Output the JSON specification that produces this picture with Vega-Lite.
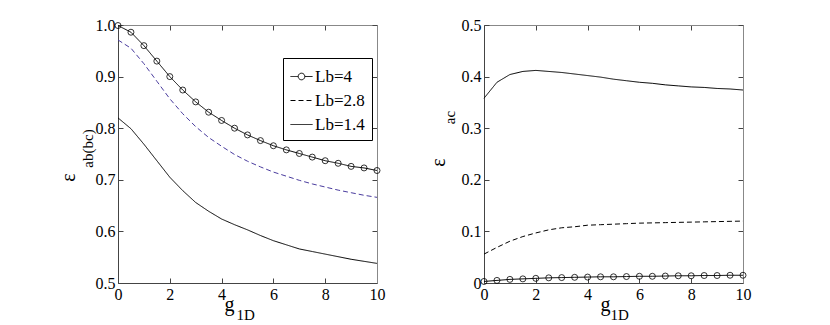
{
  "$schema": "https://vega.github.io/schema/vega-lite/v6.json",
  "background": "white",
  "padding": {"left": 58, "top": 17, "right": 5, "bottom": 0},
  "datasets": {
    "left": [
      {"g": 0, "v": 0.999, "series": "Lb=4"}, {"g": 0.5, "v": 0.986, "series": "Lb=4"}, {"g": 1, "v": 0.96, "series": "Lb=4"}, {"g": 1.5, "v": 0.93, "series": "Lb=4"}, {"g": 2, "v": 0.9, "series": "Lb=4"}, {"g": 2.5, "v": 0.874, "series": "Lb=4"}, {"g": 3, "v": 0.851, "series": "Lb=4"}, {"g": 3.5, "v": 0.831, "series": "Lb=4"}, {"g": 4, "v": 0.815, "series": "Lb=4"}, {"g": 4.5, "v": 0.8, "series": "Lb=4"}, {"g": 5, "v": 0.787, "series": "Lb=4"}, {"g": 5.5, "v": 0.776, "series": "Lb=4"}, {"g": 6, "v": 0.766, "series": "Lb=4"}, {"g": 6.5, "v": 0.758, "series": "Lb=4"}, {"g": 7, "v": 0.751, "series": "Lb=4"}, {"g": 7.5, "v": 0.744, "series": "Lb=4"}, {"g": 8, "v": 0.737, "series": "Lb=4"}, {"g": 8.5, "v": 0.732, "series": "Lb=4"}, {"g": 9, "v": 0.726, "series": "Lb=4"}, {"g": 9.5, "v": 0.723, "series": "Lb=4"}, {"g": 10, "v": 0.718, "series": "Lb=4"},
      {"g": 0, "v": 0.971, "series": "Lb=2.8"}, {"g": 0.5, "v": 0.955, "series": "Lb=2.8"}, {"g": 1, "v": 0.925, "series": "Lb=2.8"}, {"g": 1.5, "v": 0.891, "series": "Lb=2.8"}, {"g": 2, "v": 0.857, "series": "Lb=2.8"}, {"g": 2.5, "v": 0.828, "series": "Lb=2.8"}, {"g": 3, "v": 0.803, "series": "Lb=2.8"}, {"g": 3.5, "v": 0.782, "series": "Lb=2.8"}, {"g": 4, "v": 0.765, "series": "Lb=2.8"}, {"g": 4.5, "v": 0.749, "series": "Lb=2.8"}, {"g": 5, "v": 0.736, "series": "Lb=2.8"}, {"g": 5.5, "v": 0.725, "series": "Lb=2.8"}, {"g": 6, "v": 0.715, "series": "Lb=2.8"}, {"g": 6.5, "v": 0.707, "series": "Lb=2.8"}, {"g": 7, "v": 0.699, "series": "Lb=2.8"}, {"g": 7.5, "v": 0.692, "series": "Lb=2.8"}, {"g": 8, "v": 0.686, "series": "Lb=2.8"}, {"g": 8.5, "v": 0.68, "series": "Lb=2.8"}, {"g": 9, "v": 0.675, "series": "Lb=2.8"}, {"g": 9.5, "v": 0.67, "series": "Lb=2.8"}, {"g": 10, "v": 0.666, "series": "Lb=2.8"},
      {"g": 0, "v": 0.82, "series": "Lb=1.4"}, {"g": 0.5, "v": 0.799, "series": "Lb=1.4"}, {"g": 1, "v": 0.769, "series": "Lb=1.4"}, {"g": 1.5, "v": 0.737, "series": "Lb=1.4"}, {"g": 2, "v": 0.705, "series": "Lb=1.4"}, {"g": 2.5, "v": 0.679, "series": "Lb=1.4"}, {"g": 3, "v": 0.656, "series": "Lb=1.4"}, {"g": 3.5, "v": 0.639, "series": "Lb=1.4"}, {"g": 4, "v": 0.624, "series": "Lb=1.4"}, {"g": 4.5, "v": 0.613, "series": "Lb=1.4"}, {"g": 5, "v": 0.603, "series": "Lb=1.4"}, {"g": 5.5, "v": 0.592, "series": "Lb=1.4"}, {"g": 6, "v": 0.582, "series": "Lb=1.4"}, {"g": 6.5, "v": 0.574, "series": "Lb=1.4"}, {"g": 7, "v": 0.566, "series": "Lb=1.4"}, {"g": 7.5, "v": 0.561, "series": "Lb=1.4"}, {"g": 8, "v": 0.556, "series": "Lb=1.4"}, {"g": 8.5, "v": 0.551, "series": "Lb=1.4"}, {"g": 9, "v": 0.546, "series": "Lb=1.4"}, {"g": 9.5, "v": 0.542, "series": "Lb=1.4"}, {"g": 10, "v": 0.538, "series": "Lb=1.4"}
    ],
    "right": [
      {"g": 0, "v": 0.003, "series": "Lb=4"}, {"g": 0.5, "v": 0.005, "series": "Lb=4"}, {"g": 1, "v": 0.007, "series": "Lb=4"}, {"g": 1.5, "v": 0.008, "series": "Lb=4"}, {"g": 2, "v": 0.009, "series": "Lb=4"}, {"g": 2.5, "v": 0.01, "series": "Lb=4"}, {"g": 3, "v": 0.0105, "series": "Lb=4"}, {"g": 3.5, "v": 0.011, "series": "Lb=4"}, {"g": 4, "v": 0.0115, "series": "Lb=4"}, {"g": 4.5, "v": 0.012, "series": "Lb=4"}, {"g": 5, "v": 0.012, "series": "Lb=4"}, {"g": 5.5, "v": 0.0125, "series": "Lb=4"}, {"g": 6, "v": 0.013, "series": "Lb=4"}, {"g": 6.5, "v": 0.013, "series": "Lb=4"}, {"g": 7, "v": 0.0135, "series": "Lb=4"}, {"g": 7.5, "v": 0.014, "series": "Lb=4"}, {"g": 8, "v": 0.014, "series": "Lb=4"}, {"g": 8.5, "v": 0.0145, "series": "Lb=4"}, {"g": 9, "v": 0.0145, "series": "Lb=4"}, {"g": 9.5, "v": 0.015, "series": "Lb=4"}, {"g": 10, "v": 0.015, "series": "Lb=4"},
      {"g": 0, "v": 0.056, "series": "Lb=2.8"}, {"g": 0.5, "v": 0.069, "series": "Lb=2.8"}, {"g": 1, "v": 0.081, "series": "Lb=2.8"}, {"g": 1.5, "v": 0.09, "series": "Lb=2.8"}, {"g": 2, "v": 0.097, "series": "Lb=2.8"}, {"g": 2.5, "v": 0.103, "series": "Lb=2.8"}, {"g": 3, "v": 0.107, "series": "Lb=2.8"}, {"g": 3.5, "v": 0.109, "series": "Lb=2.8"}, {"g": 4, "v": 0.112, "series": "Lb=2.8"}, {"g": 4.5, "v": 0.113, "series": "Lb=2.8"}, {"g": 5, "v": 0.114, "series": "Lb=2.8"}, {"g": 5.5, "v": 0.115, "series": "Lb=2.8"}, {"g": 6, "v": 0.116, "series": "Lb=2.8"}, {"g": 6.5, "v": 0.1165, "series": "Lb=2.8"}, {"g": 7, "v": 0.117, "series": "Lb=2.8"}, {"g": 7.5, "v": 0.1175, "series": "Lb=2.8"}, {"g": 8, "v": 0.118, "series": "Lb=2.8"}, {"g": 8.5, "v": 0.1185, "series": "Lb=2.8"}, {"g": 9, "v": 0.119, "series": "Lb=2.8"}, {"g": 9.5, "v": 0.1195, "series": "Lb=2.8"}, {"g": 10, "v": 0.12, "series": "Lb=2.8"},
      {"g": 0, "v": 0.358, "series": "Lb=1.4"}, {"g": 0.5, "v": 0.389, "series": "Lb=1.4"}, {"g": 1, "v": 0.404, "series": "Lb=1.4"}, {"g": 1.5, "v": 0.41, "series": "Lb=1.4"}, {"g": 2, "v": 0.412, "series": "Lb=1.4"}, {"g": 2.5, "v": 0.41, "series": "Lb=1.4"}, {"g": 3, "v": 0.408, "series": "Lb=1.4"}, {"g": 3.5, "v": 0.405, "series": "Lb=1.4"}, {"g": 4, "v": 0.402, "series": "Lb=1.4"}, {"g": 4.5, "v": 0.399, "series": "Lb=1.4"}, {"g": 5, "v": 0.395, "series": "Lb=1.4"}, {"g": 5.5, "v": 0.392, "series": "Lb=1.4"}, {"g": 6, "v": 0.389, "series": "Lb=1.4"}, {"g": 6.5, "v": 0.387, "series": "Lb=1.4"}, {"g": 7, "v": 0.384, "series": "Lb=1.4"}, {"g": 7.5, "v": 0.382, "series": "Lb=1.4"}, {"g": 8, "v": 0.38, "series": "Lb=1.4"}, {"g": 8.5, "v": 0.379, "series": "Lb=1.4"}, {"g": 9, "v": 0.377, "series": "Lb=1.4"}, {"g": 9.5, "v": 0.376, "series": "Lb=1.4"}, {"g": 10, "v": 0.374, "series": "Lb=1.4"}
    ]
  },
  "hconcat": [
    {
      "width": 259,
      "height": 258,
      "layer": [
        {
          "data": {"name": "left"},
          "mark": {"type": "line", "strokeWidth": 1},
          "encoding": {
            "x": {"field": "g", "type": "quantitative", "scale": {"domain": [0, 10], "nice": false, "zero": false},
              "axis": {"orient": "bottom", "values": [0, 2, 4, 6, 8, 10], "format": "d", "labelFont": "Liberation Serif", "titleFont": "Liberation Serif", "title": "g", "titleAlign": "left", "titleBaseline": "alphabetic", "titleX": 106, "titleY": 27, "titleAngle": 0}},
            "y": {"field": "v", "type": "quantitative", "scale": {"domain": [0.5, 1], "nice": false, "zero": false},
              "axis": {"orient": "left", "values": [0.5, 0.6, 0.7, 0.8, 0.9, 1.0], "format": ".1f", "labelFont": "Liberation Serif", "titleFont": "Liberation Serif", "title": "ε", "titleAlign": "center", "titleBaseline": "alphabetic", "titleAngle": -90, "titleX": -44, "titleY": 152}},
            "strokeDash": {"field": "series", "type": "nominal",
              "scale": {"domain": ["Lb=4", "Lb=2.8", "Lb=1.4"], "range": [[1, 0], [5, 3], [1, 0]]},
              "legend": {"title": null, "orient": "none", "legendX": 165, "legendY": 33, "strokeColor": "black", "fillColor": "white", "padding": 7, "symbolSize": 484, "rowPadding": 4, "labelOffset": 2, "labelFont": "Liberation Serif", "labelFontSize": 17,
                "encode": {"symbols": {"update": {"shape": {"signal": "datum.value === 'Lb=4' ? 'M-1,0L-0.3,0M0.3,0L1,0M0.3,0A0.3,0.3,0,1,1,-0.3,0A0.3,0.3,0,1,1,0.3,0' : 'stroke'"}, "fill": {"value": "transparent"}}}}}},
            "color": {"condition": {"test": "datum.series === 'Lb=2.8'", "value": "#4a3c9e"}, "value": "black"}
          }
        },
        {
          "data": {"name": "left"},
          "transform": [{"filter": "datum.series === 'Lb=4'"}],
          "mark": {"type": "point", "shape": "circle", "filled": false, "size": 36, "stroke": "black", "strokeWidth": 0.8, "opacity": 1},
          "encoding": {
            "x": {"field": "g", "type": "quantitative", "scale": {"domain": [0, 10], "nice": false, "zero": false},
              "axis": {"orient": "top", "values": [0, 2, 4, 6, 8, 10], "labels": false, "domainColor": "#888", "titleFont": "Liberation Serif", "title": "1D", "titleFontSize": 15, "titleAlign": "left", "titleBaseline": "alphabetic", "titleX": 118, "titleY": 294, "titleAngle": 0}},
            "y": {"field": "v", "type": "quantitative", "scale": {"domain": [0.5, 1], "nice": false, "zero": false},
              "axis": {"orient": "right", "values": [0.5, 0.6, 0.7, 0.8, 0.9, 1.0], "labels": false, "domainColor": "#888", "titleFont": "Liberation Serif", "title": "ab(bc)", "titleFontSize": 15, "titleAlign": "center", "titleBaseline": "alphabetic", "titleAngle": -90, "titleX": -285, "titleY": 123}}
          }
        }
      ],
      "resolve": {"axis": {"x": "independent", "y": "independent"}}
    },
    {
      "width": 259,
      "height": 258,
      "layer": [
        {
          "data": {"name": "right"},
          "mark": {"type": "line", "strokeWidth": 1, "color": "black"},
          "encoding": {
            "x": {"field": "g", "type": "quantitative", "scale": {"domain": [0, 10], "nice": false, "zero": false},
              "axis": {"orient": "bottom", "values": [0, 2, 4, 6, 8, 10], "format": "d", "labelFont": "Liberation Serif", "titleFont": "Liberation Serif", "title": "g", "titleAlign": "left", "titleBaseline": "alphabetic", "titleX": 116, "titleY": 27, "titleAngle": 0}},
            "y": {"field": "v", "type": "quantitative", "scale": {"domain": [0, 0.5], "nice": false, "zero": false},
              "axis": {"orient": "left", "values": [0, 0.1, 0.2, 0.3, 0.4, 0.5], "labelExpr": "datum.value === 0 ? '0' : format(datum.value, '.1f')", "labelFont": "Liberation Serif", "titleFont": "Liberation Serif", "title": "ε", "titleAlign": "center", "titleBaseline": "alphabetic", "titleAngle": -90, "titleX": -40, "titleY": 137}},
            "strokeDash": {"field": "series", "type": "nominal",
              "scale": {"domain": ["Lb=4", "Lb=2.8", "Lb=1.4"], "range": [[1, 0], [5, 3], [1, 0]]},
              "legend": null}
          }
        },
        {
          "data": {"name": "right"},
          "transform": [{"filter": "datum.series === 'Lb=4'"}],
          "mark": {"type": "point", "shape": "circle", "filled": false, "size": 36, "stroke": "black", "strokeWidth": 0.8, "opacity": 1},
          "encoding": {
            "x": {"field": "g", "type": "quantitative", "scale": {"domain": [0, 10], "nice": false, "zero": false},
              "axis": {"orient": "top", "values": [0, 2, 4, 6, 8, 10], "labels": false, "domainColor": "#888", "titleFont": "Liberation Serif", "title": "1D", "titleFontSize": 15, "titleAlign": "left", "titleBaseline": "alphabetic", "titleX": 126, "titleY": 294, "titleAngle": 0}},
            "y": {"field": "v", "type": "quantitative", "scale": {"domain": [0, 0.5], "nice": false, "zero": false},
              "axis": {"orient": "right", "values": [0, 0.1, 0.2, 0.3, 0.4, 0.5], "labels": false, "domainColor": "#888", "titleFont": "Liberation Serif", "title": "ac", "titleFontSize": 15, "titleAlign": "center", "titleBaseline": "alphabetic", "titleAngle": -90, "titleX": -289, "titleY": 92}}
          }
        }
      ],
      "resolve": {"axis": {"x": "independent", "y": "independent"}}
    }
  ],
  "spacing": 43,
  "resolve": {"scale": {"strokeDash": "independent"}, "legend": {"strokeDash": "independent"}},
  "config": {
    "view": {"stroke": null},
    "font": "Liberation Serif",
    "axis": {"labelFont": "Liberation Serif", "titleFont": "Liberation Serif", "labelFontSize": 16, "titleFontSize": 20, "titleFontWeight": "normal", "labelColor": "black", "titleColor": "black", "grid": false, "domainColor": "#444", "domainWidth": 1, "tickColor": "#444", "tickSize": -5, "labelPadding": 8, "labelFlush": false, "labelOverlap": false, "titlePadding": 0},
    "legend": {"labelFont": "Liberation Serif", "labelFontSize": 17, "labelColor": "black", "symbolStrokeColor": "black", "symbolStrokeWidth": 1}
  }
}
